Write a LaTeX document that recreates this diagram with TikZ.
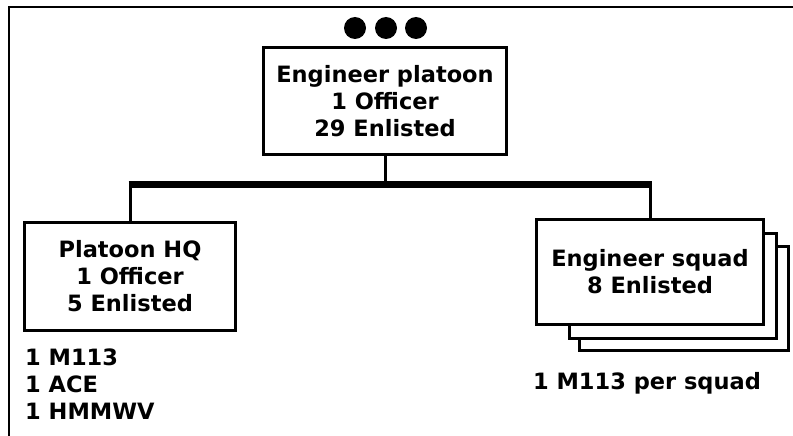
\documentclass[tikz,border=0pt]{standalone}
\usepackage{fontspec}
\setmainfont{DejaVu Sans}
\usetikzlibrary{positioning}

\begin{document}
\begin{tikzpicture}[x=1pt, y=-1pt,
  unit/.style={draw, line width=3pt, fill=white, align=center, inner sep=0pt,
               font=\bfseries\fontsize{22.5}{27}\selectfont},
  unit/.default=white,
  note/.style={align=left, inner sep=0pt, font=\bfseries\fontsize{22.5}{27}\selectfont},
  link/.style={line width=3pt},
  bus/.style={line width=7pt, shorten <=-1.5pt, shorten >=-1.5pt},
  dot/.style={circle, fill=black, inner sep=0pt, minimum size=22pt}]
\useasboundingbox (0,0) rectangle (793,436);
% frame round the chart
\draw[line width=2.5pt] (9,436) -- (9,7) -- (793,7);
% platoon and its size mark
\node[unit, minimum width=243pt, minimum height=107pt] (plt) at (385,101)
  {Engineer platoon\\1 Officer\\29 Enlisted};
\foreach \x in {355,386,416}
  \node[dot] (dot\x) at (\x,28) {};
% headquarters
\node[unit, minimum width=211pt, minimum height=108pt] (hq) at (130,276)
  {Platoon HQ\\1 Officer\\5 Enlisted};
\node[note, anchor=west] (hqkit) at (25,384) {1 M113\\1 ACE\\1 HMMWV};
% squads, stacked
\node[unit, minimum width=209pt, minimum height=104pt] (sq3) at (684,298.5) {};
\node[unit, minimum width=207pt, minimum height=105pt] (sq2) at (673,286) {};
\node[unit, minimum width=227pt, minimum height=105pt] (sq) at (650,272)
  {Engineer squad\\8 Enlisted};
\node[note] (sqkit) at (647,383) {1 M113 per squad};
% links
\coordinate (bus) at (385,184);
\draw[link] (plt.south) -- (bus);
\draw[bus] (hq.north |- bus) -- (sq.north |- bus);
\draw[link] (hq.north |- bus) -- (hq.north);
\draw[link] (sq.north |- bus) -- (sq.north);
\end{tikzpicture}
\end{document}
